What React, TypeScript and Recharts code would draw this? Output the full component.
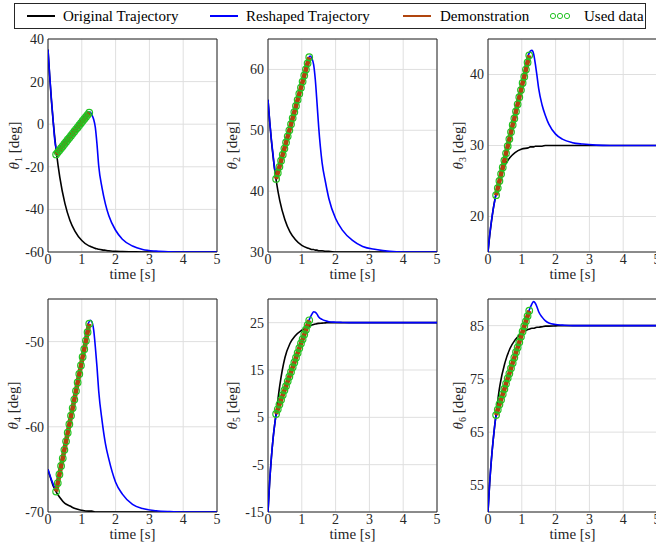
import React from 'react';
import { ComposedChart, Line, Scatter, XAxis, YAxis, CartesianGrid, ReferenceArea } from 'recharts';

const FONT = "'Liberation Serif', 'Times New Roman', serif";

// sample times for the two full trajectories
const time = [0, 0.05, 0.1, 0.15, 0.2, 0.25, 0.35, 0.5, 0.65, 0.8, 1.0, 1.2, 1.25, 1.3, 1.35, 1.4, 1.45, 1.5, 1.6, 1.7, 1.8, 2.0, 2.2, 2.5, 2.8, 3.2, 3.6, 4.0, 5.0];

const orig1 = [35, 22.4, 11.3, 1.8, -6.3, -13.4, -25, -37.2, -45.2, -50.3, -54.6, -57, -57.3, -57.7, -58, -58.3, -58.5, -58.7, -59, -59.2, -59.4, -59.7, -59.8, -59.9, -60, -60, -60, -60, -60];
const resh1 = [35, 23, 12, 2.2, -7.5, -11.8, -10.7, -7.7, -4.7, -1.7, 2.3, 5.6, 5.7, 4.3, 2.3, -1.5, -9.5, -19.5, -30, -37.5, -43, -49.8, -54, -57.2, -58.8, -59.6, -59.9, -60, -60];

const orig2 = [55, 51.4, 48.3, 45.7, 43.4, 41.5, 38.4, 35.3, 33.3, 32.1, 31.1, 30.6, 30.5, 30.4, 30.4, 30.3, 30.3, 30.2, 30.2, 30.1, 30.1, 30, 30, 30, 30, 30, 30, 30, 30];
const resh2 = [55, 51.5, 48.5, 46, 43.6, 43.2, 44.8, 47.9, 51, 54, 58, 61.9, 62.2, 61.8, 60.8, 58.3, 54.5, 50.5, 44.7, 41.5, 38.8, 35.5, 33.6, 31.9, 30.9, 30.4, 30.1, 30, 30];

const orig3 = [15, 17.3, 19.2, 20.9, 22.3, 23.5, 25.3, 27.2, 28.3, 29, 29.5, 29.7, 29.8, 29.8, 29.8, 29.9, 29.9, 29.9, 29.9, 30, 30, 30, 30, 30, 30, 30, 30, 30, 30];
const resh3 = [15, 17.4, 19.3, 20.9, 22.2, 23.4, 25.8, 28.8, 31.8, 34.9, 38.9, 42.8, 43.3, 43.4, 42.9, 41.5, 39.8, 38, 35.7, 34.2, 33, 31.6, 30.9, 30.4, 30.2, 30.05, 30, 30, 30];

const orig4 = [-65, -65.7, -66.3, -66.9, -67.3, -67.7, -68.3, -69, -69.3, -69.6, -69.8, -69.9, -69.9, -69.9, -69.95, -70, -70, -70, -70, -70, -70, -70, -70, -70, -70, -70, -70, -70, -70];
const resh4 = [-65, -65.6, -66.2, -66.7, -67.1, -66.9, -64.9, -61.9, -58.9, -55.8, -51.8, -47.8, -47.5, -47.7, -48.6, -50.6, -53, -55.8, -59.3, -62, -63.8, -66.5, -67.9, -69.1, -69.6, -69.85, -69.95, -70, -70];

const orig5 = [-15, -8.5, -3.5, 0.5, 3.6, 6.3, 11.8, 17.6, 20.6, 22.2, 23.4, 24.2, 24.4, 24.5, 24.6, 24.7, 24.8, 24.85, 24.9, 24.95, 25, 25, 25, 25, 25, 25, 25, 25, 25];
const resh5 = [-15, -8.5, -3.5, 0.5, 3.6, 5.9, 8.3, 11.3, 14.3, 17.4, 21.3, 25.3, 26.1, 26.8, 27.3, 27.2, 26.8, 26.2, 25.7, 25.4, 25.2, 25.1, 25.05, 25, 25, 25, 25, 25, 25];

const orig6 = [50, 55.5, 59.8, 63.3, 66.3, 69, 73.7, 78, 80.7, 82.3, 83.6, 84.3, 84.4, 84.5, 84.5, 84.6, 84.7, 84.7, 84.8, 84.9, 84.9, 84.95, 85, 85, 85, 85, 85, 85, 85];
const resh6 = [50, 55.5, 59.8, 63.3, 66.3, 68.5, 70.9, 73.8, 76.8, 79.7, 83.6, 87.6, 88.4, 89.1, 89.5, 89.2, 88.5, 87.6, 86.6, 85.9, 85.5, 85.2, 85.1, 85, 85, 85, 85, 85, 85];

// demonstration samples (used data)
const usedTime = [0.24, 0.289, 0.338, 0.387, 0.436, 0.485, 0.534, 0.583, 0.632, 0.681, 0.73, 0.779, 0.828, 0.877, 0.926, 0.975, 1.024, 1.073, 1.122, 1.171, 1.22];
const used1 = [-14.2, -13.2, -12.2, -11.3, -10.3, -9.3, -8.3, -7.3, -6.4, -5.4, -4.4, -3.4, -2.4, -1.5, -0.5, 0.5, 1.5, 2.5, 3.4, 4.4, 5.4];
const used2 = [42, 43, 44, 45, 46, 47, 48, 49, 50, 51, 52, 53, 54, 55, 56, 57, 58, 59, 60, 61, 62];
const used3 = [23, 24, 25, 26, 26.9, 27.9, 28.9, 29.9, 30.9, 31.9, 32.9, 33.8, 34.8, 35.8, 36.8, 37.8, 38.8, 39.7, 40.7, 41.7, 42.7];
const used4 = [-67.6, -66.6, -65.6, -64.6, -63.7, -62.7, -61.7, -60.7, -59.7, -58.7, -57.8, -56.8, -55.8, -54.8, -53.8, -52.8, -51.8, -50.9, -49.9, -48.9, -47.9];
const used5 = [5.7, 6.7, 7.7, 8.7, 9.7, 10.7, 11.6, 12.6, 13.6, 14.6, 15.6, 16.6, 17.6, 18.6, 19.6, 20.6, 21.5, 22.5, 23.5, 24.5, 25.5];
const used6 = [68.2, 69.2, 70.2, 71.1, 72.1, 73.1, 74.1, 75.1, 76.0, 77.0, 78.0, 79.0, 80.0, 80.9, 81.9, 82.9, 83.9, 84.9, 85.8, 86.8, 87.8];

const xTicks = [0, 1, 2, 3, 4, 5];
const seriesNames = ['Original Trajectory', 'Reshaped Trajectory', 'Demonstration', 'Used data'];

const BLUE = '#0000ff';
const BROWN = '#b0450e';
const GREEN = '#22c322';

const panels = [
  { n: 1, orig: orig1, resh: resh1, used: used1, domain: [-60, 40], ticks: [-60, -40, -20, 0, 20, 40], left: 48, top: 39, labelDx: -34 },
  { n: 2, orig: orig2, resh: resh2, used: used2, domain: [30, 65], ticks: [30, 40, 50, 60], left: 268, top: 39, labelDx: -36 },
  { n: 3, orig: orig3, resh: resh3, used: used3, domain: [15, 45], ticks: [20, 30, 40], left: 488, top: 39, labelDx: -30 },
  { n: 4, orig: orig4, resh: resh4, used: used4, domain: [-70, -45], ticks: [-70, -60, -50], left: 48, top: 299, labelDx: -35 },
  { n: 5, orig: orig5, resh: resh5, used: used5, domain: [-15, 30], ticks: [-15, -5, 5, 15, 25], left: 268, top: 299, labelDx: -36 },
  { n: 6, orig: orig6, resh: resh6, used: used6, domain: [50, 90], ticks: [55, 65, 75, 85], left: 488, top: 299, labelDx: -30 },
];

const PW = 169;
const PH = 213;
const ML = 48;
const MT = 10;
const MR = 10;
const MB = 40;

const tickStyle = { fill: '#262626', fontSize: 14, fontFamily: FONT };

function Panel({ p }: { p: any }) {
  const rows = time.map((t, i) => ({ t, o: p.orig[i], r: p.resh[i] }));
  const used = usedTime.map((t, i) => ({ t, v: p.used[i] }));

  const yLabel = (props: any) => {
    const vb = props.viewBox;
    const x = vb.x + vb.width + p.labelDx;
    const y = vb.y + vb.height / 2;
    return (
      <text x={x} y={y} dy="0.35em" transform={`rotate(-90 ${x} ${y})`} textAnchor="middle"
        fill="#262626" fontSize={15} fontFamily={FONT}>
        <tspan fontStyle="italic">θ</tspan>
        <tspan fontSize={10} dy={3}>{p.n}</tspan>
        <tspan dy={-3}> [deg]</tspan>
      </text>
    );
  };

  const xLabel = (props: any) => {
    const vb = props.viewBox;
    return (
      <text x={vb.x + vb.width / 2} y={vb.y + 27} textAnchor="middle" fill="#262626" fontSize={15} fontFamily={FONT}>
        time [s]
      </text>
    );
  };

  return (
    <div style={{ position: 'absolute', left: p.left - ML, top: p.top - MT }}>
      <ComposedChart width={ML + PW + MR} height={MT + PH + MB} data={rows}
        margin={{ top: MT, right: MR, bottom: 0, left: 0 }}>
        <CartesianGrid stroke="#dfdfdf" strokeWidth={1} />
        <XAxis dataKey="t" type="number" domain={[0, 5]} ticks={xTicks} interval={0} allowDataOverflow
          height={MB} axisLine={false} tickLine={false} tickSize={0} tickMargin={2} tick={tickStyle} label={xLabel} />
        <YAxis type="number" domain={p.domain} ticks={p.ticks} interval={0} allowDataOverflow
          width={ML} axisLine={false} tickLine={false} tickSize={0} tickMargin={4} tick={tickStyle} label={yLabel} />
        <ReferenceArea x1={0} x2={5} y1={p.domain[0]} y2={p.domain[1]} fill="none" stroke="#262626" strokeWidth={1} fillOpacity={0} />
        <Line dataKey="o" type="monotone" stroke="#000" strokeWidth={1.6} dot={false} activeDot={false} isAnimationActive={false} />
        <Line dataKey="r" type="monotone" stroke={BLUE} strokeWidth={1.6} dot={false} activeDot={false} isAnimationActive={false} />
        <Scatter data={used} dataKey="v" isAnimationActive={false}
          shape={(s: any) => <circle cx={s.cx} cy={s.cy} r={3.3} fill="none" stroke={GREEN} strokeWidth={1.2} />} />
        <Line data={used} dataKey="v" type="linear" stroke={BROWN} strokeWidth={4.6} dot={false} activeDot={false} isAnimationActive={false} />
      </ComposedChart>
    </div>
  );
}

function Legend() {
  const y = 16;
  return (
    <svg width={656} height={32} style={{ position: 'absolute', left: 0, top: 0 }}>
      <rect x={14.5} y={3.5} width={631} height={25} fill="#fff" stroke="#262626" />
      <g fontFamily={FONT} fontSize={15} fill="#000">
        <line x1={27} x2={55} y1={y} y2={y} stroke="#000" strokeWidth={2} />
        <text x={63} y={y + 5}>{seriesNames[0]}</text>
        <line x1={210} x2={238} y1={y} y2={y} stroke={BLUE} strokeWidth={2} />
        <text x={246} y={y + 5}>{seriesNames[1]}</text>
        <line x1={403} x2={431} y1={y} y2={y} stroke={BROWN} strokeWidth={2} />
        <text x={440} y={y + 5}>{seriesNames[2]}</text>
        <circle cx={553} cy={y} r={2.6} fill="none" stroke={GREEN} strokeWidth={1} />
        <circle cx={560} cy={y} r={2.6} fill="none" stroke={GREEN} strokeWidth={1} />
        <circle cx={567} cy={y} r={2.6} fill="none" stroke={GREEN} strokeWidth={1} />
        <text x={584} y={y + 5}>{seriesNames[3]}</text>
      </g>
    </svg>
  );
}

export default function App() {
  return (
    <div style={{ position: 'absolute', left: 0, top: 0, width: 656, height: 546, overflow: 'hidden', background: '#fff' }}>
      {panels.map((p) => (
        <Panel key={p.n} p={p} />
      ))}
      <Legend />
    </div>
  );
}
